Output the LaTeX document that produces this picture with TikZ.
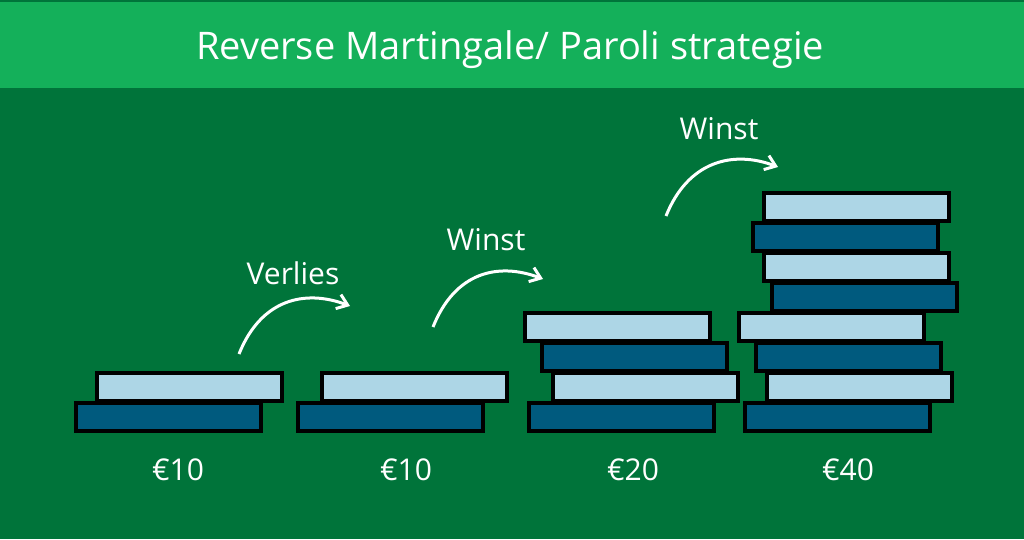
\documentclass[tikz,border=0pt]{standalone}
\usepackage{fontspec}
\setmainfont{Open Sans}
\usepackage{tikz}
\usetikzlibrary{calc,arrows.meta}
\definecolor{bggreen}{RGB}{0,116,58}
\definecolor{headgreen}{RGB}{20,176,90}
\definecolor{chipdk}{RGB}{0,90,126}
\definecolor{chiplt}{RGB}{173,214,230}
\tikzset{chipdark/.style={draw=black, line width=4pt, fill=chipdk},
  chiplight/.style={draw=black, line width=4pt, fill=chiplt},
  winarrow/.style={white, line width=3pt, -{Straight Barb[length=10pt,width=15pt]}},
  lbl/.style={white, anchor=base, inner sep=0pt, font=\fontsize{30}{32}\selectfont}}

\begin{document}
\begin{tikzpicture}[x=1pt,y=-1pt]
    % Background and header
    \fill[bggreen] (0,0) rectangle (1024,539);
    \fill[headgreen] (0,2) rectangle (1024,88);
    \useasboundingbox (0,0) rectangle (1024,539);
    \node[white, anchor=base, inner sep=0pt, font=\fontsize{38}{40}\selectfont] (title) at (510,59) {Reverse Martingale/ Paroli strategie};
    % Stack 1
    \draw[chipdark] (76,431) rectangle (261,402.5);
    \draw[chiplight] (97,401) rectangle (282,372.5);
    % Stack 2
    \draw[chipdark] (298,431) rectangle (483,402.5);
    \draw[chiplight] (322,401) rectangle (507,372.5);
    % Stack 3
    \draw[chipdark] (529,431) rectangle (714,402.5);
    \draw[chiplight] (553,401) rectangle (738,372.5);
    \draw[chipdark] (542,371) rectangle (727,342.5);
    \draw[chiplight] (525,341) rectangle (710,312.5);
    % Stack 4
    \draw[chipdark] (745,431) rectangle (930,402.5);
    \draw[chiplight] (767,401) rectangle (952,372.5);
    \draw[chipdark] (756,371) rectangle (941,342.5);
    \draw[chiplight] (739,341) rectangle (924,312.5);
    \draw[chipdark] (772,311) rectangle (957,282.5);
    \draw[chiplight] (764,281) rectangle (949,252.5);
    \draw[chipdark] (753,251) rectangle (938,222.5);
    \draw[chiplight] (764,221) rectangle (949,192.5);
    % Amounts
    \node[lbl] (amt1) at (178,480) {€10};
    \node[lbl] (amt2) at (406,480) {€10};
    \node[lbl] (amt3) at (633,480) {€20};
    \node[lbl] (amt4) at (848,480) {€40};
    % Arrows
    \coordinate (s1) at (239,354);
    \coordinate (e1) at (350,306);
    \coordinate (s2) at (433,327);
    \coordinate (e2) at (543,279);
    \coordinate (s3) at (666,216);
    \coordinate (e3) at (778,167);
    \draw[winarrow] (s1) .. controls ($(s1)+(22,-55)$) and ($(e1)+(-45,-17)$) .. (e1);
    \draw[winarrow] (s2) .. controls ($(s2)+(22,-55)$) and ($(e2)+(-45,-17)$) .. (e2);
    \draw[winarrow] (s3) .. controls ($(s3)+(22,-55)$) and ($(e3)+(-45,-17)$) .. (e3);
    \node[lbl] (loss) at (293,284) {Verlies};
    \node[lbl] (win1) at (486,250) {Winst};
    \node[lbl] (win2) at (719,139) {Winst};
\end{tikzpicture}
\end{document}
